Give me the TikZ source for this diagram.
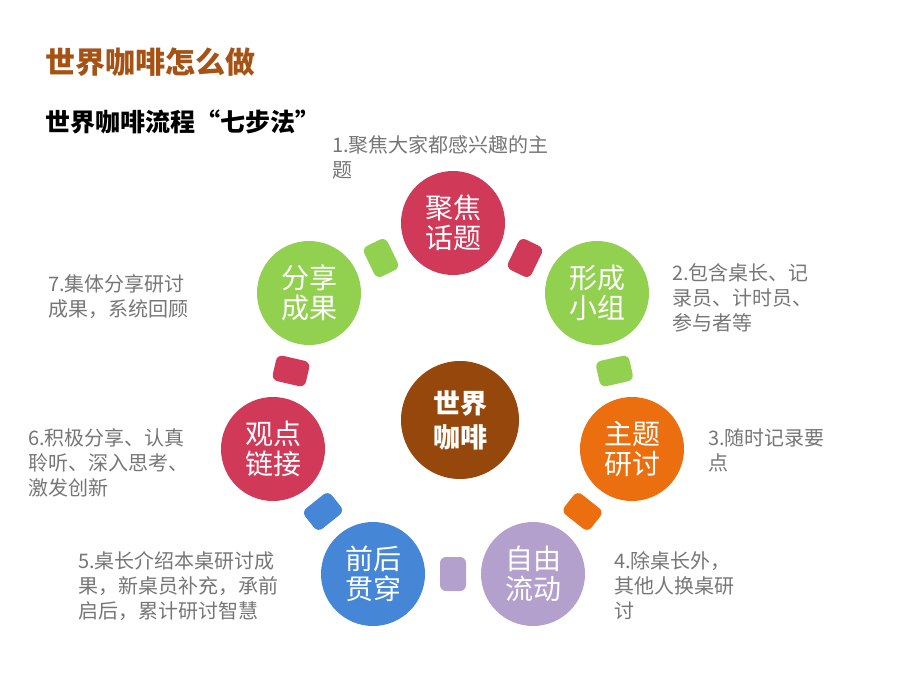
\documentclass[tikz,border=0pt]{standalone}
\usepackage{fontspec}
\setmainfont{Noto Sans CJK SC}
\usetikzlibrary{positioning}

\definecolor{cred}{RGB}{208,58,88}
\definecolor{cgreen}{RGB}{146,208,80}
\definecolor{corange}{RGB}{235,110,15}
\definecolor{cpurple}{RGB}{180,160,205}
\definecolor{cblue}{RGB}{70,134,214}
\definecolor{cbrown}{RGB}{150,72,12}
\definecolor{ctitle}{RGB}{165,82,20}
\definecolor{cnote}{RGB}{118,118,118}

\begin{document}
\begin{tikzpicture}[x=1pt, y=-1pt,
  tablesty/.style={circle, minimum size=104pt, inner sep=0pt, text=white, align=center, font=\fontsize{28}{30}\selectfont},
  hubsty/.style={circle, minimum size=118pt, inner sep=0pt, text=white, align=center, fill=cbrown, font=\fontsize{27}{34}\selectfont\bfseries},
  linksty/.style={rectangle, rounded corners=6pt, minimum width=26pt, minimum height=34pt, inner sep=0pt, sloped},
  notesty/.style={anchor=north west, inner sep=0pt, align=left, text=cnote, font=\fontsize{20}{25}\selectfont}]

\useasboundingbox (0,0) rectangle (920,690);

% titles
\node[anchor=west, inner sep=0pt, text=ctitle, font=\fontsize{30}{30}\selectfont\bfseries] (title) at (45,62) {世界咖啡怎么做};
\node[anchor=west, inner sep=0pt, font=\fontsize{25}{25}\selectfont\bfseries] (subtitle) at (45,122) {世界咖啡流程“七步法”};

% the seven tables
\node[tablesty, fill=cred]    (ju)   at (453,223) {聚焦\\话题};
\node[tablesty, fill=cgreen]  (xing) at (597,293) {形成\\小组};
\node[tablesty, fill=corange] (zhu)  at (632,449) {主题\\研讨};
\node[tablesty, fill=cpurple] (zi)   at (533,574) {自由\\流动};
\node[tablesty, fill=cblue]   (qian) at (373,574) {前后\\贯穿};
\node[tablesty, fill=cred]    (guan) at (273,449) {观点\\链接};
\node[tablesty, fill=cgreen]  (fen)  at (309,293) {分享\\成果};

\node[hubsty] (hub) at (460,420) {世界\\咖啡};

% links between tables
\foreach \a/\b/\c in {fen/ju/cgreen, ju/xing/cred, xing/zhu/cgreen, zhu/zi/corange,
                      zi/qian/cpurple, qian/guan/cblue, guan/fen/cred}
  \path (\a) -- node[linksty, fill=\c] (link-\a) {} (\b);

% notes
\node[notesty] (note1) at (332,135) {1.聚焦大家都感兴趣的主\\题};
\node[notesty] (note2) at (672,263) {2.包含桌长、记\\录员、计时员、\\参与者等};
\node[notesty] (note3) at (708,428) {3.随时记录要\\点};
\node[notesty] (note4) at (614,551) {4.除桌长外，\\其他人换桌研\\讨};
\node[notesty] (note5) at (78,551)  {5.桌长介绍本桌研讨成\\果，新桌员补充，承前\\启后，累计研讨智慧};
\node[notesty] (note6) at (28,428)  {6.积极分享、认真\\聆听、深入思考、\\激发创新};
\node[notesty] (note7) at (48,274)  {7.集体分享研讨\\成果，系统回顾};

\end{tikzpicture}
\end{document}
